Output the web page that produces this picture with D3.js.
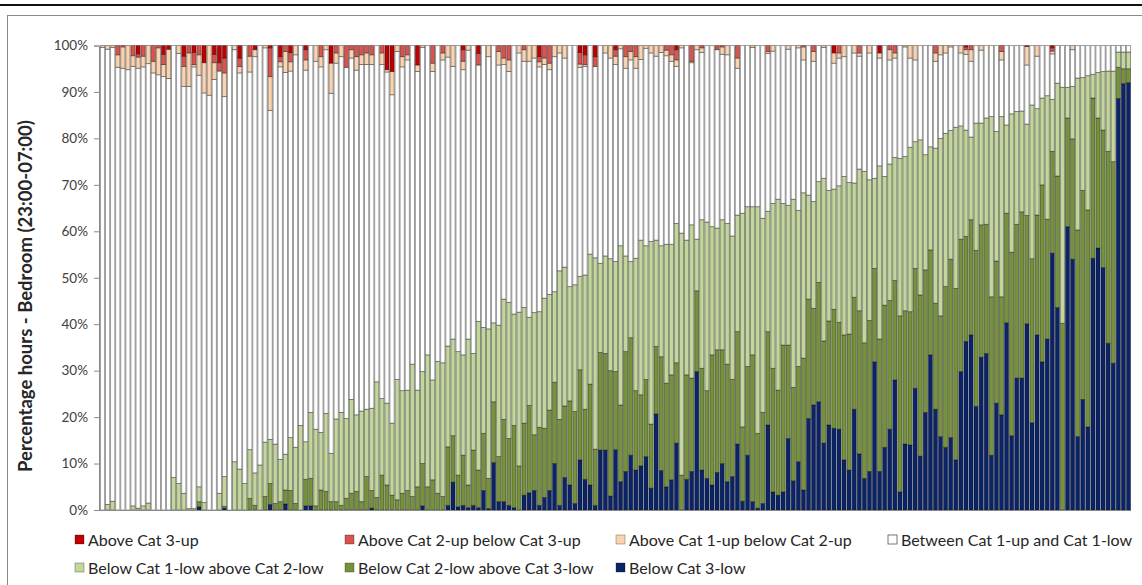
<!DOCTYPE html>
<html>
<head>
<meta charset="utf-8">
<script src="https://cdn.jsdelivr.net/npm/d3@7"></script>
<style>
  html, body { margin: 0; padding: 0; background: #fff; }
  svg { display: block; font-family: Lato, "Open Sans", "DejaVu Sans", sans-serif; }
</style>
</head>
<body>
<svg id="chart" width="1142" height="585"></svg>
<script>
// ---------------- DATA (percent of night-time hours, one value per bedroom) ----------------
const aboveCat3Up = [
0,0,0,0,0,0,0,1.8,0,0,
0,0,1.9,0.8,0,0,2.3,0,1.5,0,
3.7,0,1.9,3.7,2.7,0,0,2.7,0,0,
0.9,0,0,0.5,0,2.4,0,1.5,0,0,
0.9,0,0,0,0,3.8,0,0,0,0,
0,0,0,0,0,0,5.2,5.6,0,0,
0,0,4.2,0,0,0,0,0,0,0,
0,0.9,0,0,1.7,0,0,0,0,0,
0,0,0,0,0,0,2.4,0,0,0,
0,0,0,0,1.5,2,0,2.4,0,0,
0,0.9,0,0,0,0,0,0,0,0,
0,0,0,0.9,0,0,0,0,0,0,
0,0,0,0,0,0,0,0,0,0,
0,0,0,0,0,0,0,0,0,0,
0,0,0,0,1.6,0,0,0,0,0,
0,0,0,1.6,0,0,0,0,0,0,
0,0,0,0,0,0,0,0,0,0,
0.3,0,0,0,0,0,0,0,0,0,
0,0,0.2,0,0,0,0,0.5,0,0,
0,0,0,0,0,0,0,0,0,0,
0,0,0];

const aboveCat2Up = [
0,0,0,2,0.3,0,2.2,0.7,2.3,0,
3.4,0.5,2.2,0,0,0,2.2,1.6,2.6,2,
0,0,1.8,1.8,3.2,0,0,1.8,0,2.3,
0,0,0,6.2,0,1.1,1.3,2,0,0,
2.2,0,0,2.4,0,0,1.6,0,4.7,0.9,
2.4,2,1.6,2,0,1.6,0,0,0,2.4,
2,0,0,0,0,3.8,0,1.6,0,0,
0,2.5,0,0,2.5,0,0,0,1.3,2.7,
3.1,0,0,0.9,0,0,1.1,2.7,3.8,0,
0,0,0,0,2.5,2.1,0,2.1,0,0,
0,1.4,0,2.4,1.3,2.4,0,0,0,0,
0,1,2,2.2,0,0,3.4,0,0.5,0,
0,0.9,0.3,0,0,2.7,0,0,0,0,
0,1.3,0,0,0,0,0,0,0.3,0,
1.3,0,0,0,0,1.6,0,0,0,1.6,
0,0,0,0,0,0.9,1.6,0,0,0,
0,0,0,0,1.6,0,0,0,0,0,
0.6,0.9,0,0,0,0,0,1.3,0,0,
0,0,0,0,0,0,0,0.7,0,0,
0,0,0,0,0,0,0,0,0,0,
0,0,0];

const aboveCat1Up = [
0.4,0.8,0.4,2.7,4.6,5.2,2.3,2.4,2.3,3.9,
2.5,5.8,2.6,6.3,0,1.7,4.3,7.2,0.5,4.4,
6.5,10.7,3.6,0,5.1,0,0.9,1.4,0,3.4,
1.5,0,0.5,7.3,0,1.1,4.5,2,2,0,
2.2,0,3.4,2.2,0.9,6.5,2.2,2.4,0,1.8,
2.9,2.1,2.5,2.1,0,2.5,0.5,5,1.3,2.2,
1.1,0,1.4,0.4,0,1.8,0,1.5,2.5,4.5,
0,1.8,1,0,0,0,2.4,0,2.9,1.4,
2.5,0,1.6,2.5,3.4,2.7,1.1,1.4,1.4,2.4,
1.6,2.7,0,0,0.7,0.4,0,0,0,1.6,
2.7,1.8,0.7,2.5,1.8,2.5,3,0.6,1.6,2.3,
1.5,1.2,1.4,1.4,0.5,0,0.3,0.9,1,0,
0,0,1.6,2,0,2.2,0,0,0.4,0,
0,0.4,1.2,0,0,0.8,0,0.5,2.8,0,
2.1,0,0.4,0,2.2,1.1,2.4,0,1.6,0.7,
0,1.6,0,1.1,0,2.2,1.1,0,0.3,2.7,
3.1,0,0,0,1.8,2,1.6,0.3,0,1.6,
1,2.5,0,1,0,0,0,1.8,0,0,
0,0,4,0,2.3,0,0,0.6,0,0,
0,0.9,0,0,0,0,0,0,0,0,
0,0,0];

const belowCat1Low = [
0,1.2,1.9,0,0,0,0.9,0.4,0.9,1.5,
0,0,0,0,7,5.7,3.6,0.3,0.3,3.2,
1.6,0,0,3.6,6.4,0,10.4,8.8,5.7,10.5,
7,9.7,11.7,9.5,12.8,9.1,7.7,11.4,12.1,18.2,
8.1,14.2,16.5,12.4,16.8,10.4,17.8,20,17.2,20.2,
16.5,19.5,14.5,17.7,24.9,16.5,17.6,15.5,25.9,22.1,
21.6,28.5,20.8,19.8,28.4,21.5,28.4,28.8,21.7,20.8,
26.6,21.6,31.4,20.8,32,22.8,32.2,17,28.3,25.9,
29.3,24,33.1,24.9,19,26.3,24.9,28,24.9,19.5,
32,29.9,24.6,27.3,20.1,28.9,28,41.2,19.2,21,
24.1,23.7,34.3,20.6,16.4,28.5,33.3,28.8,39.3,22.9,
23.9,29.9,28.1,30,52.1,29,33,11.1,32,36.3,
27.6,26.2,28,30.3,30.9,25.1,46,34.4,31.9,48.8,
41.8,25.9,35.5,41.1,30.5,30.1,40.5,33.6,35.6,22.4,
23,21.7,35,28.1,25.9,29.4,34.1,32.6,24.6,30.5,
36.9,30.3,19.4,37.3,27.7,29.4,26.5,33.9,33.2,35.4,
27.3,33.4,24.8,22.2,33.4,38.2,33,27.7,34.7,24.4,
22.9,17.8,27.4,21.9,22.9,38.8,27.9,38.8,19,29.8,
24.3,21.7,19.7,33.1,22.9,18.7,26.6,11.2,20,50.8,
6.6,11.3,32.7,24.3,28.9,5.1,9.8,12.6,17.3,19.5,
3.3,3.6,3.6];

const belowCat2Low = [
0,0,0,0,0,0,0,0,0,0,
0,0,0,0,0,0,0,0,0,1.1,
0,0,0,0,0.4,0,0,0,0,2.5,
1,0,2.9,4.5,1.4,1.8,3,4.2,1.4,0,
5.7,5.9,0.9,4.3,4,1.8,1.8,1,2.5,3.6,
4,1.8,7.2,3.8,2.7,7.5,5.4,3.2,2.2,3.6,
4.2,2.9,5,9.1,5,6.5,3.6,2.9,12.6,10,
6.8,10.8,4.9,11.9,8.1,12.3,6.5,13.1,9.7,17.7,
14.4,17.7,9.5,15.5,18.8,12,16.8,14.9,17.3,17.5,
18.5,15.4,18.1,19.8,19.4,15.1,21.7,12.1,21,20.8,
27,16.8,16.5,25.8,25.3,17.1,15.3,16.6,13.8,14.5,
24.5,22.3,22.6,17.3,7.5,22.5,20.1,17.4,21.9,18.9,
28,26.4,24.5,25.3,20.9,24.2,16,19.1,31.6,16.1,
19.6,20.1,26.6,22.6,31.6,20.1,20.1,20.5,28.4,25.7,
20.8,25.7,22,22.4,25.6,23,26.9,29.3,24.1,30.8,
29.2,32.5,20.1,28.5,30.6,27.7,21.4,37.9,28.7,28.7,
25.8,34.7,30.7,22.6,22.8,26,34.6,38.4,36.9,28.5,
22.6,24.8,33.6,28.5,27.8,34.1,30.6,25.4,23.6,39.5,
33.1,35.8,23.3,35.3,25.8,38.1,25.8,21.9,28.3,40.2,
23.4,25.9,44.5,45,46.7,34.5,28,29.6,41.3,43.4,
6.7,3.2,3];

const belowCat3Low = [
0,0,0,0,0,0,0,0,0,0,
0,0,0,0,0,0,0,0,0,0.7,
0,0,0,0,0.4,0,0,0,0,0,
0,0,0,1.2,0,0,1.3,0,0,0,
0.9,0.9,0,0,0,0,0,0,0,0,
0,0,0,0.4,0,0,0,0,0,0,
0,0,0,0.9,0,0,0,0,1,6,
0.7,1,0.5,1,0.5,4.2,0.3,10.2,1.8,1.8,
1,0.5,0,3.2,3.7,4.2,1,2.7,4.2,10,
1,7,5.4,1.4,10.8,6.6,5.4,1,12.9,12.9,
3,13,6.1,8.3,11.8,8.6,9.5,11.5,4.7,20.7,
8.5,5,6.5,14.4,0,6.6,8.3,29.8,8.6,6.8,
5.4,8.1,10,6.1,7.2,14.2,1.9,11.8,1.8,0.4,
1.4,18.3,3.9,3.2,3.9,15.4,6.3,10.4,4.3,19.7,
22.6,23.3,14.4,18.3,17.6,17.4,10.8,8.6,21.7,12.1,
6.8,8.3,31.9,8.3,13.5,17.4,28,3.9,14.2,14,
26.2,11.6,21,33.4,21.7,15.8,13.5,15.6,10.8,29.8,
36.3,37.7,22.3,32.9,33.7,11.8,23,20.5,40.3,16,
28.4,28.4,40.1,18.8,37.7,31.9,36.8,55.3,43.6,0,
61,54,15.8,23.8,17.9,54.2,56.4,52.2,35.9,31.6,
88.6,91.8,92];

const seriesNames = [
  "Above Cat 3-up",
  "Above Cat 2-up below Cat 3-up",
  "Above Cat 1-up below Cat 2-up",
  "Between Cat 1-up and Cat 1-low",
  "Below Cat 1-low above Cat 2-low",
  "Below Cat 2-low above Cat 3-low",
  "Below Cat 3-low"
];
const seriesColors = ["#C00000", "#D9534F", "#FAD3B0", "#FFFFFF", "#C3D69B", "#76923C", "#0B2467"];
const yTickValues = [0,10,20,30,40,50,60,70,80,90,100];
const yTitle = "Percentage hours - Bedroom (23:00-07:00)";

// categories: one per monitored bedroom (bars are unlabeled in the source)
const categories = belowCat3Low.map((_, i) => "B" + (i + 1));

// Rows for the 100% stack; the "between" band is the remainder of each night's hours.
const rows = categories.map((c, i) => {
  const r = {
    cat: c,
    [seriesNames[6]]: belowCat3Low[i],
    [seriesNames[5]]: belowCat2Low[i],
    [seriesNames[4]]: belowCat1Low[i],
    [seriesNames[2]]: aboveCat1Up[i],
    [seriesNames[1]]: aboveCat2Up[i],
    [seriesNames[0]]: aboveCat3Up[i]
  };
  r[seriesNames[3]] = Math.max(0, 100 - belowCat3Low[i] - belowCat2Low[i] - belowCat1Low[i]
                                   - aboveCat1Up[i] - aboveCat2Up[i] - aboveCat3Up[i]);
  return r;
});

// ---------------- LAYOUT ----------------
const svg = d3.select("#chart");
const W = 1142, H = 585;
const plot = { left: 100, right: 1131, top: 45.5, bottom: 510 };

// page frame lines
svg.append("rect").attr("x", 0).attr("y", 0).attr("width", W).attr("height", H).attr("fill", "#fff");
svg.append("line").attr("x1", 0).attr("x2", W).attr("y1", 5).attr("y2", 5)
  .attr("stroke", "#111").attr("stroke-width", 2.2);
svg.append("rect").attr("x", 7.5).attr("y", 15.5).attr("width", 1160).attr("height", 620)
  .attr("fill", "none").attr("stroke", "#8a8a8a").attr("stroke-width", 1);

const x = d3.scaleBand().domain(categories).range([plot.left, plot.right]).paddingInner(0).paddingOuter(0);
const y = d3.scaleLinear().domain([0, 100]).range([plot.bottom, plot.top]);
const color = d3.scaleOrdinal().domain(seriesNames).range(seriesColors);

const stackKeys = [seriesNames[6], seriesNames[5], seriesNames[4], seriesNames[3], seriesNames[2], seriesNames[1], seriesNames[0]];
const stacked = d3.stack().keys(stackKeys)(rows);

const g = svg.append("g");
g.selectAll("g.series").data(stacked).join("g")
  .attr("class", "series")
  .attr("fill", d => color(d.key))
  .selectAll("rect").data(d => d.filter(p => p[1] - p[0] > 0)).join("rect")
  .attr("x", d => x(d.data.cat) + 0.45)
  .attr("width", x.bandwidth() - 0.9)
  .attr("y", d => y(d[1]))
  .attr("height", d => y(d[0]) - y(d[1]))
  .attr("stroke", "rgba(0,0,0,0.42)")
  .attr("stroke-width", 0.9);

// axes
const yAxis = d3.axisLeft(y).tickValues(yTickValues).tickFormat(d => d + "%").tickSize(5).tickPadding(6);
const ya = svg.append("g").attr("transform", `translate(${plot.left - 1},0)`).call(yAxis);
ya.select(".domain").attr("stroke", "#8a8a8a");
ya.selectAll(".tick line").attr("stroke", "#8a8a8a");
ya.selectAll(".tick text").attr("fill", "#404040").style("font-size", "13.5px")
  .style("font-family", "Lato, 'Open Sans', sans-serif");

const xAxis = d3.axisBottom(x).tickValues([]).tickSizeOuter(0);
const xa = svg.append("g").attr("transform", `translate(0,${plot.bottom + 0.5})`).call(xAxis);
xa.select(".domain").attr("stroke", "#8a8a8a").attr("d", `M${plot.left - 1},0H${plot.right}`);

// y title
svg.append("text")
  .attr("transform", `translate(32,296) rotate(-90)`)
  .attr("text-anchor", "middle")
  .attr("fill", "#262626")
  .style("font-size", "18.5px").style("font-weight", "700")
  .text(yTitle);

// legend
const legendPos = [
  [75, 540], [345, 540], [616, 540], [888, 540],
  [75, 568], [345, 568], [616, 568]
];
const lg = svg.append("g");
seriesNames.forEach((name, i) => {
  const [lx, ly] = legendPos[i];
  lg.append("rect").attr("x", lx).attr("y", ly - 5).attr("width", 9).attr("height", 9)
    .attr("fill", color(name)).attr("stroke", i === 3 ? "#555" : "rgba(0,0,0,0.35)").attr("stroke-width", 0.8);
  lg.append("text").attr("x", lx + 13).attr("y", ly + 5.5)
    .attr("fill", "#262626").style("font-size", "16px").text(name);
});
</script>
</body>
</html>
